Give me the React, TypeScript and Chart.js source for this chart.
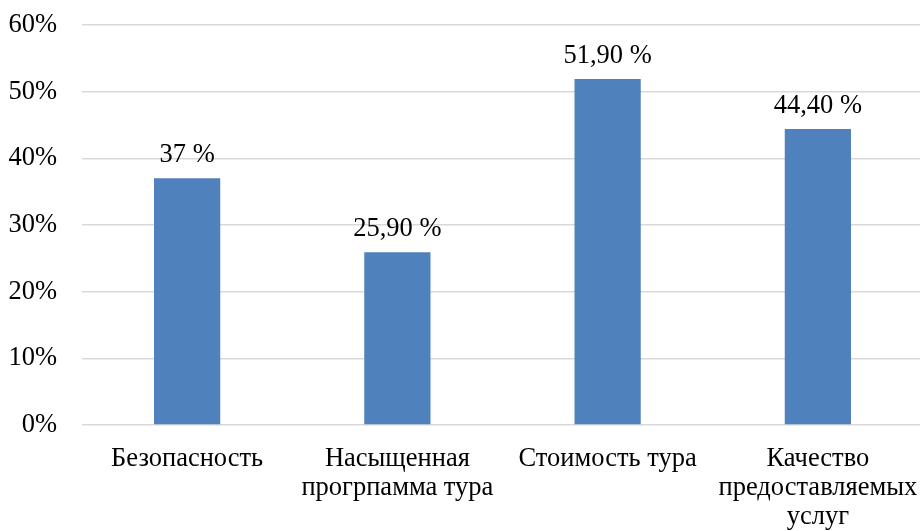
import React, { useEffect, useRef } from "react";
import { Chart, registerables } from "chart.js";

Chart.register(...registerables);

// Criteria for choosing a tour and the share of respondents naming each
const categories: (string | string[])[] = [
  "Безопасность",
  ["Насыщенная", "прогрпамма тура"],
  "Стоимость тура",
  ["Качество", "предоставляемых", "услуг"],
];
const shares: number[] = [37, 25.9, 51.9, 44.4];
const yTicks: number[] = [0, 10, 20, 30, 40, 50, 60];

const FONT = "'Liberation Serif', 'Times New Roman', serif";
const FONT_SIZE = 26.5;
const BAR_COLOR = "#4F81BD";

const formatShare = (v: number) =>
  (Number.isInteger(v) ? String(v) : v.toFixed(2).replace(".", ",")) + " %";

// Writes the value above every bar
const valueLabels = {
  id: "valueLabels",
  afterDatasetsDraw(chart: any) {
    const { ctx } = chart;
    const meta = chart.getDatasetMeta(0);
    ctx.save();
    ctx.font = `${FONT_SIZE}px ${FONT}`;
    ctx.fillStyle = "#000";
    ctx.textAlign = "center";
    ctx.textBaseline = "alphabetic";
    meta.data.forEach((bar: any, i: number) => {
      const v = chart.data.datasets[0].data[i] as number;
      ctx.fillText(formatShare(v), bar.x, bar.y - 16);
    });
    ctx.restore();
  },
};

export default function App() {
  const canvasRef = useRef<HTMLCanvasElement | null>(null);

  useEffect(() => {
    if (!canvasRef.current) return;
    const chart = new Chart(canvasRef.current, {
      type: "bar",
      data: {
        labels: categories,
        datasets: [
          {
            data: shares,
            backgroundColor: BAR_COLOR,
            borderWidth: 0,
            categoryPercentage: 1,
            barPercentage: 0.315,
          },
        ],
      },
      options: {
        responsive: false,
        animation: false,
        layout: {
          autoPadding: false,
          padding: { top: 25, right: 1, left: 0, bottom: 0 },
        },
        plugins: {
          legend: { display: false },
          tooltip: { enabled: false },
        },
        scales: {
          x: {
            afterFit: (scale: any) => {
              scale.height = 106;
              scale.paddingLeft = 0;
              scale.paddingRight = 0;
            },
            grid: { display: false, drawTicks: false },
            border: { display: false },
            ticks: {
              color: "#000",
              font: { family: FONT, size: FONT_SIZE, lineHeight: 1.08 },
              padding: 20,
              maxRotation: 0,
              autoSkip: false,
            },
          },
          y: {
            min: 0,
            max: 60,
            afterFit: (scale: any) => {
              scale.width = 82;
              scale.paddingTop = 0;
              scale.paddingBottom = 0;
            },
            afterBuildTicks: (scale: any) => {
              scale.ticks = yTicks.map((v) => ({ value: v }));
            },
            grid: { color: "#D9D9D9", lineWidth: 1.5, drawTicks: false },
            border: { display: false },
            ticks: {
              color: "#000",
              font: { family: FONT, size: FONT_SIZE },
              padding: 25,
              callback: (v: any) => `${v}%`,
            },
          },
        },
      },
      plugins: [valueLabels],
    });
    return () => chart.destroy();
  }, []);

  return (
    <div
      style={{
        position: "fixed",
        left: 0,
        top: 0,
        width: 920,
        height: 531,
        overflow: "hidden",
        background: "#fff",
      }}
    >
      <canvas ref={canvasRef} width={924} height={531} style={{ display: "block" }} />
    </div>
  );
}
